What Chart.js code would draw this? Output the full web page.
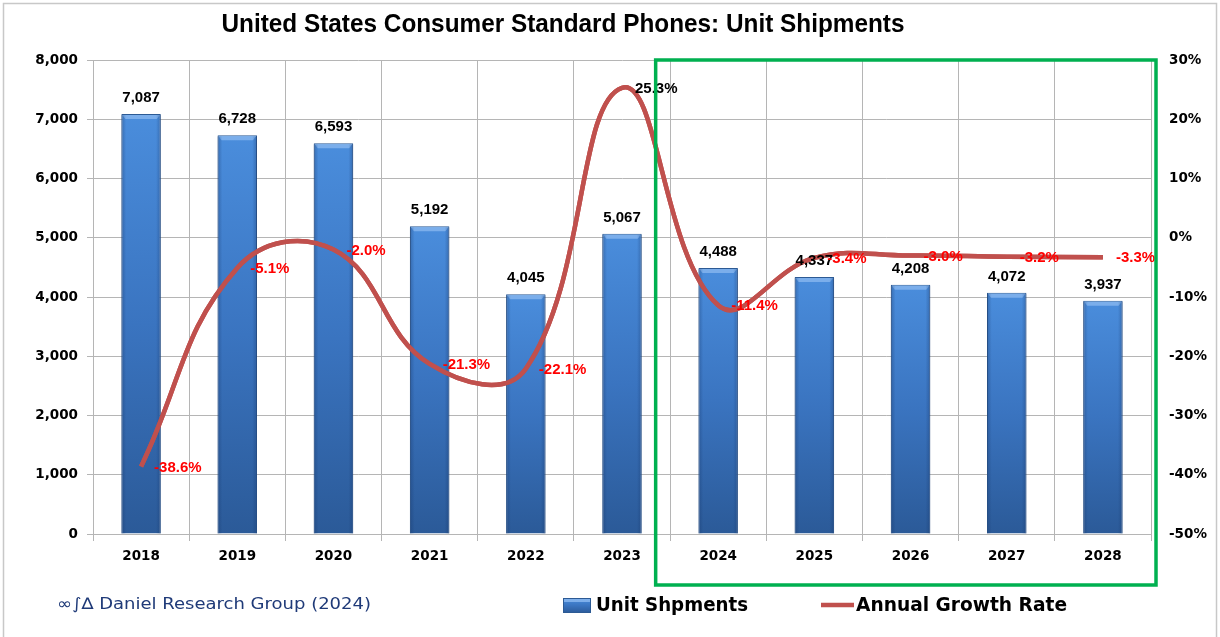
<!DOCTYPE html>
<html>
<head>
<meta charset="utf-8">
<script src="https://cdn.jsdelivr.net/npm/chart.js@4.4.1/dist/chart.umd.min.js"></script>
<style>
  html, body { margin: 0; padding: 0; background: #ffffff; }
  #wrap { width: 1220px; height: 637px; position: relative; }
</style>
</head>
<body>
<div id="wrap"><canvas id="c" width="1220" height="637"></canvas></div>
<script>
// ---- Data ----
const categories = ['2018', '2019', '2020', '2021', '2022', '2023', '2024', '2025', '2026', '2027', '2028'];
const unitShipments = [7087, 6728, 6593, 5192, 4045, 5067, 4488, 4337, 4208, 4072, 3937];
const growthRate = [-38.6, -5.1, -2.0, -21.3, -22.1, 25.3, -11.4, -3.4, -3.0, -3.2, -3.3];
const unitAxisRange = [0, 8000, 1000];   // min, max, step
const rateAxisRange = [-50, 30, 10];     // min, max, step (%)
const forecastStartIndex = 6;            // 2024 onward highlighted
const chartTitle = 'United States Consumer Standard Phones: Unit Shipments';
const sourceText = '\u221E\u222B\u2206 Daniel Research Group (2024)';
const seriesNames = ['Unit Shpments', 'Annual Growth Rate'];

// ---- Styles ----
const FONT = "'DejaVu Sans', sans-serif";
const LABEL_FONT = "bold 15px 'Liberation Sans', sans-serif";
const GRID = '#b5b5b5';
const LINE_COLOR = '#c0504d';

function fitText(ctx, text, x, y, width, align) {
  const w = ctx.measureText(text).width;
  const s = width / w;
  ctx.save();
  ctx.translate(x, y);
  ctx.scale(s, 1);
  ctx.textAlign = align || 'left';
  ctx.fillText(text, 0, 0);
  ctx.restore();
}

function barGradient(ctx, top, bottom) {
  const g = ctx.createLinearGradient(0, top, 0, bottom);
  g.addColorStop(0, '#4a8ddc');
  g.addColorStop(0.5, '#3a74c0');
  g.addColorStop(1, '#2b5a98');
  return g;
}

const decorPlugin = {
  id: 'decor',
  beforeDraw(chart) {
    const ctx = chart.ctx;
    ctx.save();
    ctx.fillStyle = '#ffffff';
    ctx.fillRect(0, 0, chart.width, chart.height);
    ctx.restore();
  },
  afterDatasetsDraw(chart) {
    const ctx = chart.ctx;
    const barMeta = chart.getDatasetMeta(1);
    const lineMeta = chart.getDatasetMeta(0);
    ctx.save();
    // bar bevel highlight and side shading
    barMeta.data.forEach((bar) => {
      const w = bar.width, x0 = bar.x - w / 2, x1 = bar.x + w / 2, y = bar.y;
      ctx.fillStyle = 'rgba(140,185,240,0.75)';
      ctx.beginPath();
      ctx.moveTo(x0 + 1, y + 1);
      ctx.lineTo(x1 - 1, y + 1);
      ctx.lineTo(x1 - 4, y + 5);
      ctx.lineTo(x0 + 4, y + 5);
      ctx.closePath();
      ctx.fill();
      const sg = ctx.createLinearGradient(x0, 0, x1, 0);
      sg.addColorStop(0, 'rgba(20,50,100,0.35)');
      sg.addColorStop(0.12, 'rgba(20,50,100,0)');
      sg.addColorStop(0.88, 'rgba(20,50,100,0)');
      sg.addColorStop(1, 'rgba(20,50,100,0.35)');
      ctx.fillStyle = sg;
      ctx.fillRect(x0, y + 1, w, bar.base - y - 1);
    });
    // redraw line on top of the shading
    lineMeta.dataset.draw(ctx);
    // bar value labels
    ctx.fillStyle = '#000';
    ctx.font = LABEL_FONT;
    ctx.textAlign = 'center';
    ctx.textBaseline = 'alphabetic';
    barMeta.data.forEach((bar, i) => {
      ctx.fillText(unitShipments[i].toLocaleString('en-US'), bar.x, bar.y - 12);
    });
    // growth labels
    ctx.textAlign = 'left';
    ctx.textBaseline = 'middle';
    lineMeta.data.forEach((pt, i) => {
      const v = growthRate[i];
      ctx.fillStyle = v < 0 ? '#ff0000' : '#000000';
      ctx.fillText(v.toFixed(1) + '%', pt.x + 13, pt.y + 1);
    });
    ctx.restore();
  },
  afterDraw(chart) {
    const ctx = chart.ctx;
    const area = chart.chartArea;
    const xs = chart.scales.x;
    ctx.save();
    // outer border
    ctx.strokeStyle = '#c8c8c8';
    ctx.lineWidth = 1.5;
    ctx.strokeRect(3.5, 3.5, chart.width - 7, chart.height + 10);
    // title
    ctx.fillStyle = '#000';
    ctx.font = "bold 25px 'Liberation Sans', sans-serif";
    ctx.textBaseline = 'middle';
    fitText(ctx, chartTitle, 563, 25, 683, 'center');
    // forecast highlight box
    const c0 = xs.getPixelForValue(forecastStartIndex - 1);
    const c1 = xs.getPixelForValue(forecastStartIndex);
    const step = c1 - c0;
    const left = (c0 + c1) / 2 - 0.15 * step;
    const right = area.right + 5;
    ctx.strokeStyle = '#00b050';
    ctx.lineWidth = 3.5;
    ctx.strokeRect(left, area.top, right - left, area.bottom + 51 - area.top);
    // source text
    ctx.fillStyle = '#1f3a78';
    ctx.font = '16px ' + FONT;
    ctx.textBaseline = 'middle';
    fitText(ctx, sourceText, 57, 605, 314, 'left');
    // legend: bar swatch
    const sx = 563, sy = 598, sw = 28, sh = 15;
    ctx.fillStyle = barGradient(ctx, sy, sy + sh);
    ctx.fillRect(sx, sy, sw, sh);
    ctx.fillStyle = 'rgba(140,185,240,0.8)';
    ctx.fillRect(sx + 1, sy + 1, sw - 2, 3);
    ctx.strokeStyle = '#2c5a94';
    ctx.lineWidth = 1;
    ctx.strokeRect(sx + 0.5, sy + 0.5, sw - 1, sh - 1);
    ctx.fillStyle = '#000';
    ctx.font = 'bold 19px ' + FONT;
    fitText(ctx, seriesNames[0], 596, 606, 152, 'left');
    // legend: line swatch
    ctx.strokeStyle = LINE_COLOR;
    ctx.lineWidth = 4.5;
    ctx.beginPath();
    ctx.moveTo(821, 605);
    ctx.lineTo(854, 605);
    ctx.stroke();
    ctx.fillStyle = '#000';
    fitText(ctx, seriesNames[1], 856, 606, 211, 'left');
    ctx.restore();
  }
};

const ctx = document.getElementById('c').getContext('2d');
new Chart(ctx, {
  type: 'bar',
  data: {
    labels: categories,
    datasets: [
      {
        type: 'line',
        label: seriesNames[1],
        data: growthRate,
        yAxisID: 'yRate',
        borderColor: LINE_COLOR,
        borderWidth: 4.5,
        tension: 0.42,
        pointRadius: 0,
        fill: false,
        order: 0
      },
      {
        type: 'bar',
        label: seriesNames[0],
        data: unitShipments,
        yAxisID: 'yUnits',
        backgroundColor: (c) => {
          const ch = c.chart;
          if (!ch.chartArea || c.raw == null) return '#3a74c0';
          const top = ch.scales.yUnits.getPixelForValue(c.raw);
          return barGradient(ch.ctx, top, ch.chartArea.bottom);
        },
        borderColor: '#2c5a94',
        borderWidth: 1,
        barPercentage: 0.41,
        categoryPercentage: 1,
        order: 1
      }
    ]
  },
  options: {
    responsive: false,
    animation: false,
    devicePixelRatio: 1,
    layout: { padding: { top: 60, bottom: 67, left: 0, right: 0 } },
    plugins: {
      legend: { display: false },
      tooltip: { enabled: false },
      title: { display: false }
    },
    scales: {
      x: {
        grid: { offset: true, color: GRID, tickLength: 7, drawTicks: true },
        border: { color: GRID },
        ticks: { color: '#000', font: { family: FONT, weight: 'bold', size: 13.5 }, padding: 7, maxRotation: 0 },
        afterFit: (s) => { s.height = 36; }
      },
      yUnits: {
        position: 'left',
        min: unitAxisRange[0],
        max: unitAxisRange[1],
        grid: { color: GRID, tickLength: 6 },
        border: { color: GRID },
        ticks: {
          stepSize: unitAxisRange[2],
          color: '#000',
          font: { family: FONT, weight: 'bold', size: 13.5 },
          padding: 9,
          callback: (v) => Number(v).toLocaleString('en-US')
        },
        afterFit: (s) => { s.width = 93; }
      },
      yRate: {
        position: 'right',
        min: rateAxisRange[0],
        max: rateAxisRange[1],
        grid: { drawOnChartArea: false, drawTicks: false },
        border: { color: GRID },
        ticks: {
          stepSize: rateAxisRange[2],
          color: '#000',
          font: { family: FONT, weight: 'bold', size: 13.5 },
          padding: 18,
          callback: (v) => v + '%'
        },
        afterFit: (s) => { s.width = 69; }
      }
    }
  },
  plugins: [decorPlugin]
});
</script>
</body>
</html>
